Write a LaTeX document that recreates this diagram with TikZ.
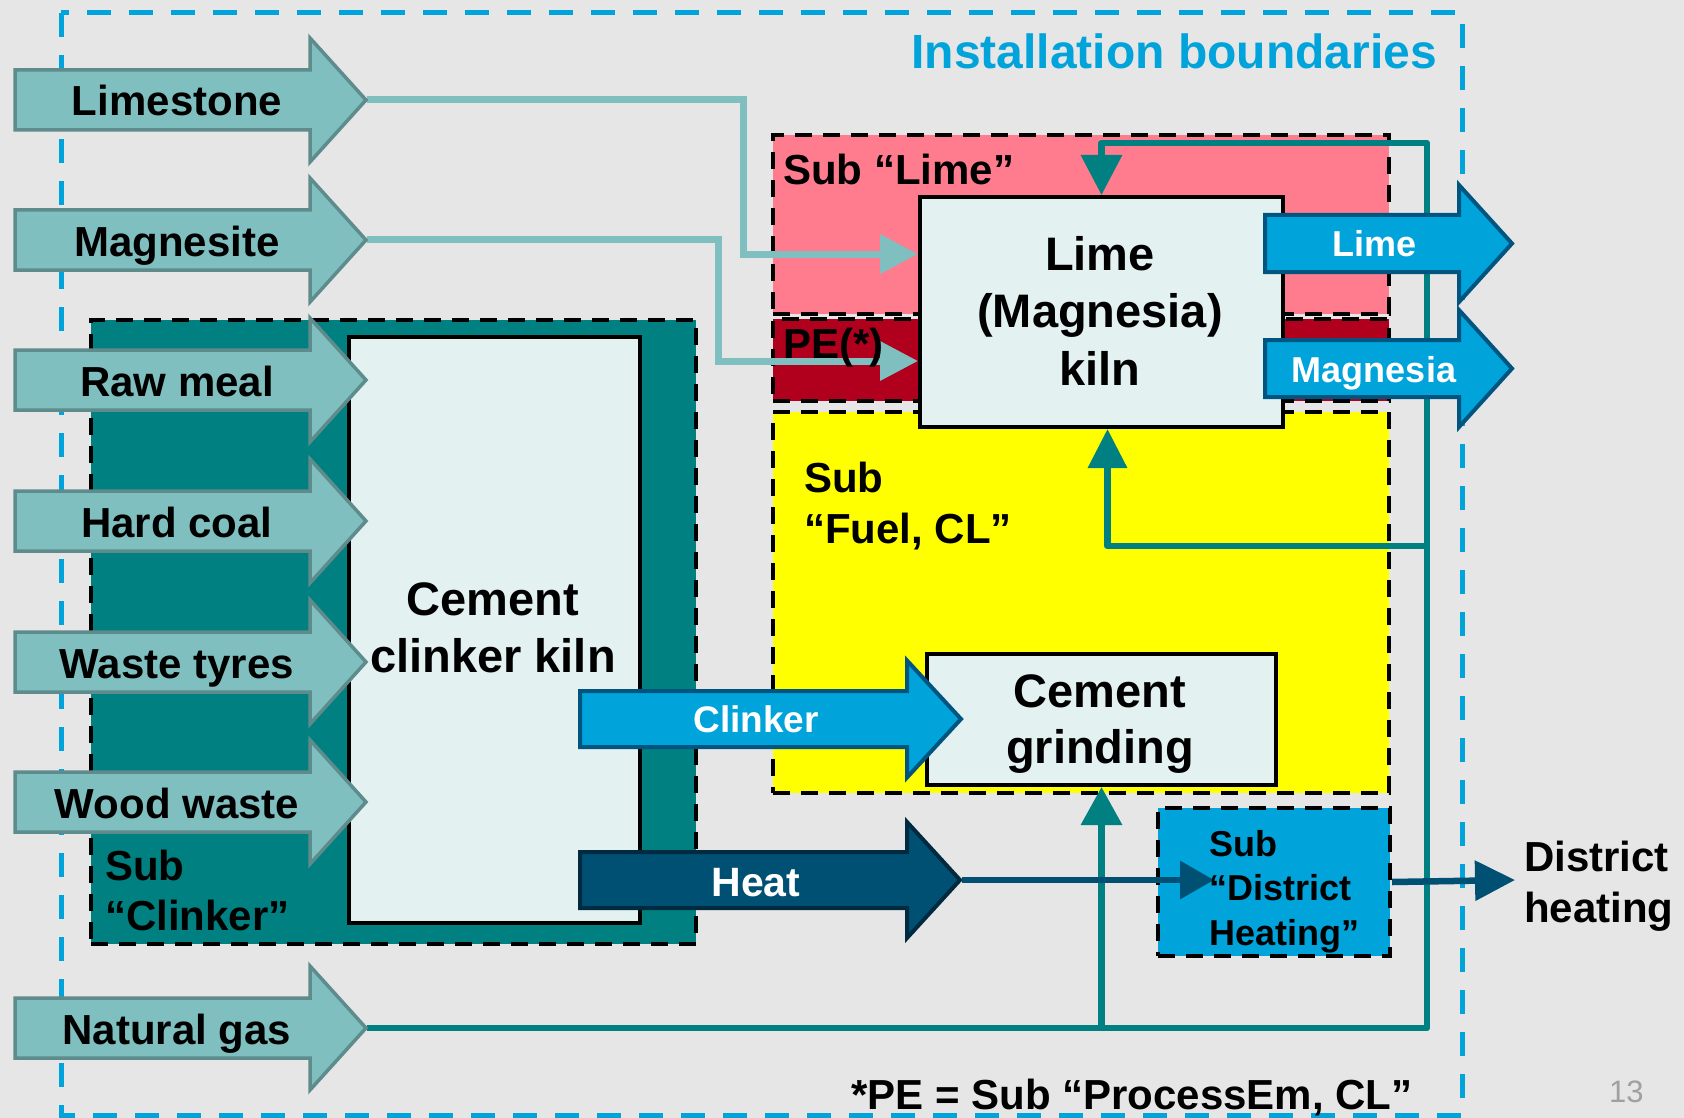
\documentclass[tikz,border=0pt]{standalone}
\usepackage{fontspec}
\setmainfont{Liberation Sans}
\usetikzlibrary{arrows.meta}
\definecolor{bggray}{RGB}{230,230,230}
\definecolor{instblue}{RGB}{0,163,218}
\definecolor{inarrowfill}{RGB}{128,191,191}
\definecolor{inarrowdraw}{RGB}{94,140,140}
\definecolor{tealc}{RGB}{0,128,128}
\definecolor{boxfill}{RGB}{227,241,241}
\definecolor{pinkc}{RGB}{255,124,142}
\definecolor{pered}{RGB}{176,0,30}
\definecolor{yellowc}{RGB}{255,255,0}
\definecolor{bluedraw}{RGB}{0,85,128}
\definecolor{heatfill}{RGB}{0,80,115}
\definecolor{heatdraw}{RGB}{0,42,64}
\definecolor{pagegray}{RGB}{160,160,160}
\newcommand{\fatarrow}[7]{\path[#1] (#2,#3-#6) -- (#4,#3-#6) -- (#4,#3-#7) -- (#5,#3) -- (#4,#3+#7) -- (#4,#3+#6) -- (#2,#3+#6) -- cycle;}
\newcommand{\fr}{\rule{0pt}{40pt}}
\tikzset{
  region/.style={draw=black, line width=4pt, dash pattern=on 17pt off 11pt, rectangle, inner sep=0pt, anchor=north west},
  procbox/.style={draw=black, line width=4pt, fill=boxfill, rectangle, inner sep=0pt, anchor=north west},
  inarrow/.style={fill=inarrowfill, draw=inarrowdraw, line width=3.5pt},
  bluearrow/.style={fill=instblue, draw=bluedraw, line width=4pt},
  heatarrow/.style={fill=heatfill, draw=heatdraw, line width=4pt},
  feedline/.style={draw=inarrowfill, line width=7pt, -{Triangle[length=38pt,width=38pt]}},
  gasline/.style={draw=tealc, line width=6.5pt, line join=round},
  heatline/.style={draw=heatfill, line width=6.5pt},
  fa/.style={font=\fontsize{42pt}{50pt}\selectfont\bfseries, inner sep=0pt},
  fb/.style={font=\fontsize{47pt}{57pt}\selectfont\bfseries, inner sep=0pt},
  fw/.style={font=\fontsize{36pt}{44pt}\selectfont\bfseries, text=white, inner sep=0pt, anchor=base},
}
\begin{document}
\begin{tikzpicture}[x=1pt,y=-1pt]
\fill[bggray] (0,0) rectangle (1684,1118);
\useasboundingbox (0,0) rectangle (1684,1118);

% installation boundary
\draw[instblue, line width=5pt, dash pattern=on 24pt off 18pt] (61,13) rectangle (1462,1115);

% sub-installation regions
\node[region, fill=tealc, minimum width=605, minimum height=624] (subclinker) at (89,318) {};
\node[region, fill=pinkc, minimum width=616, minimum height=179] (sublime) at (771,133) {};
\node[region, fill=pered, minimum width=616, minimum height=82] (pe) at (771,317) {};
\node[region, fill=yellowc, minimum width=616, minimum height=381] (subfuel) at (771,410) {};
\node[region, fill=instblue, minimum width=232, minimum height=148] (subdh) at (1156,806) {};

% process boxes
\node[procbox, minimum width=291, minimum height=586] (ckiln) at (347,335) {};
\node[procbox, minimum width=363, minimum height=230] (limekiln) at (918,195) {};
\node[procbox, minimum width=349, minimum height=131] (grinding) at (925,652) {};

% coordinates
\coordinate (limestoneTip) at (367,100);
\coordinate (magnesiteTip) at (367,240);
\coordinate (gasTip) at (367,1028);
\coordinate (heatTip) at (962,880);
\coordinate (lsBend) at (743,254);
\coordinate (mgBend) at (718,361);
\coordinate (gasTop) at (1427,143);
\coordinate (gasBranch) at (1427,546);
\coordinate (dhIn) at (1214,880);
\coordinate (dhOut) at (1515,880);

% connectors
\draw[feedline] (limestoneTip) -| (lsBend) -- (limekiln.west |- lsBend);
\draw[feedline] (magnesiteTip) -| (mgBend) -- (limekiln.west |- mgBend);
\draw[gasline, -{Triangle[length=40pt,width=40pt]}] (gasTip) -| (gasTop) -| (limekiln.north);
\draw[gasline, -{Triangle[length=39pt,width=38pt]}] (gasBranch) -| ([xshift=6pt]limekiln.south);
\draw[gasline, -{Triangle[length=38pt,width=40pt]}] (grinding.south |- gasTip) -- (grinding.south);
\draw[heatline, -{Triangle[length=34pt,width=37pt]}] (heatTip) -- (dhIn);
\draw[heatline, -{Triangle[length=40pt,width=39pt]}] (subdh.east) -- (dhOut);

% input arrows
\fatarrow{inarrow}{15}{100}{310}{366}{30}{62}
\fatarrow{inarrow}{15}{240}{310}{366}{30}{62}
\fatarrow{inarrow}{15}{380}{310}{366}{30}{62}
\fatarrow{inarrow}{15}{521}{310}{366}{30}{62}
\fatarrow{inarrow}{15}{662}{310}{366}{30}{62}
\fatarrow{inarrow}{15}{802}{310}{366}{30}{62}
\fatarrow{inarrow}{15}{1028}{310}{366}{30}{62}

% output / product arrows
\fatarrow{bluearrow}{1265}{243.5}{1459}{1512}{28.5}{58.5}
\fatarrow{bluearrow}{1265}{368.5}{1459}{1512}{28.5}{58.5}
\fatarrow{bluearrow}{580}{719}{907}{961}{28}{58.5}
\fatarrow{heatarrow}{580}{880}{907}{960}{28}{58}

% input labels
\node[fa, anchor=base] (limestone) at (177,116) {Limestone};
\node[fa, anchor=base] (magnesite) at (177,256) {Magnesite};
\node[fa, anchor=base] (rawmeal) at (177,396) {Raw meal};
\node[fa, anchor=base] (hardcoal) at (177,537) {Hard coal};
\node[fa, anchor=base] (wastetyres) at (177,678) {Waste tyres};
\node[fa, anchor=base] (woodwaste) at (177,818) {Wood waste};
\node[fa, anchor=base] (natgas) at (177,1044) {Natural gas};

% product labels
\node[fw] (limeout) at (1374,257) {Lime};
\node[fw] (magnesiaout) at (1374,382) {Magnesia};
\node[fw, font=\fontsize{37pt}{44pt}\selectfont\bfseries] (clinkerout) at (756,732) {Clinker};
\node[fw, font=\fontsize{41pt}{48pt}\selectfont\bfseries] (heatout) at (756,896) {Heat};

% box labels
\node[fb, align=center, anchor=north] (ckilnlbl) at (493,575) {\fr Cement\\clinker kiln};
\node[fb, align=center, anchor=north, font=\fontsize{47pt}{57.5pt}\selectfont\bfseries] (limekilnlbl) at (1100,230) {\fr Lime\\(Magnesia)\\kiln};
\node[fb, align=center, anchor=north, font=\fontsize{47pt}{56pt}\selectfont\bfseries] (grindinglbl) at (1100,667) {\fr Cement\\grinding};

% region labels
\node[fa, anchor=base west] (sublimelbl) at (783,185) {Sub “Lime”};
\node[fa, anchor=base west] (pelbl) at (783,358) {PE(*)};
\node[fa, align=left, anchor=north west, font=\fontsize{42pt}{51pt}\selectfont\bfseries] (subfuellbl) at (804,452) {\fr Sub\\“Fuel, CL”};
\node[fa, align=left, anchor=north west] (subclinkerlbl) at (105,840) {\fr Sub\\“Clinker”};
\node[fa, align=left, anchor=north west, font=\fontsize{36pt}{44.5pt}\selectfont\bfseries] (subdhlbl) at (1209,816) {\fr Sub\\“District\\Heating”};
\node[fa, align=left, anchor=north west, font=\fontsize{42pt}{51pt}\selectfont\bfseries] (dhlbl) at (1524,831) {\fr District\\heating};

% titles and notes
\node[anchor=base east, inner sep=0pt, text=instblue, font=\fontsize{48pt}{56pt}\selectfont\bfseries] (instlbl) at (1437,69) {Installation boundaries};
\node[fa, anchor=base west] (pefoot) at (851,1109) {*PE = Sub “ProcessEm, CL”};
\node[anchor=base west, inner sep=0pt, text=pagegray, font=\fontsize{31pt}{36pt}\selectfont] (pagenum) at (1609,1102) {13};
\end{tikzpicture}
\end{document}
